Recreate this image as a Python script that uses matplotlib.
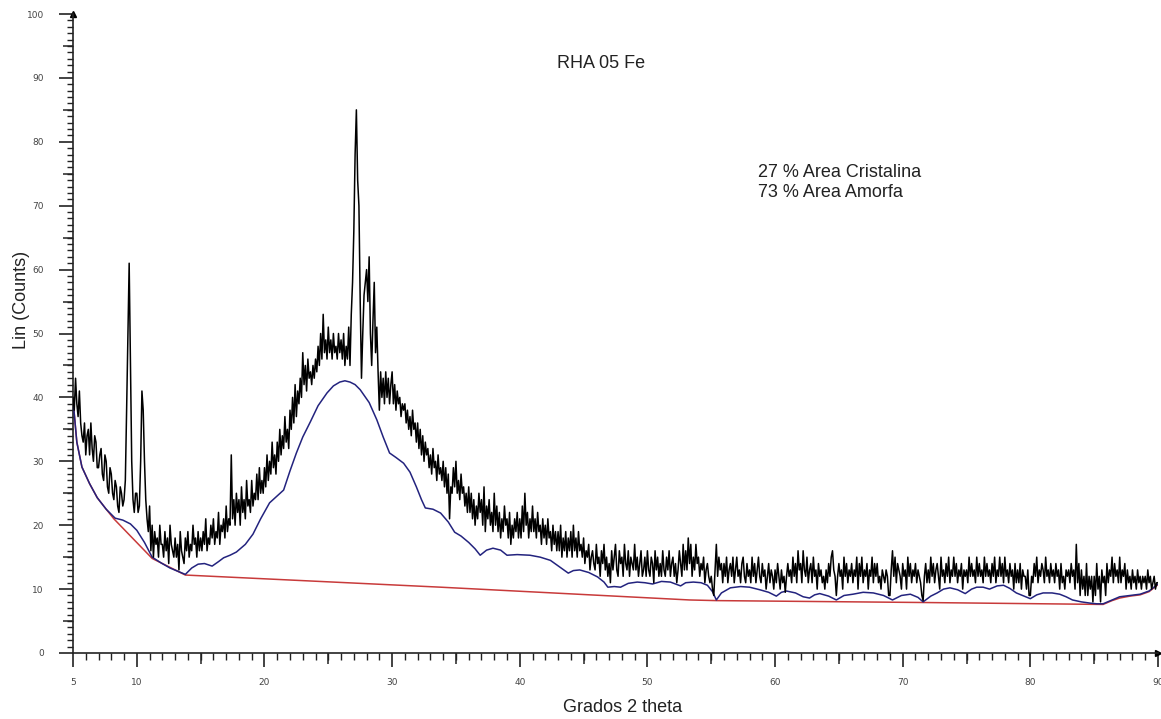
import numpy as np
import matplotlib
matplotlib.use("Agg")
import matplotlib.pyplot as plt
from matplotlib import markers
import matplotlib.transforms as mtransforms

# ---------------- data ----------------
theta_start, theta_step = 5.0, 0.1
counts = [
    40, 38, 43, 39, 37, 41, 36, 34, 33, 36,   # 5
    31, 34, 35, 31, 36, 32, 30, 34, 33, 29,   # 6
    29, 31, 32, 28, 27, 31, 30, 26, 25, 29,   # 7
    28, 25, 24, 27, 26, 23, 22, 26, 25, 23,   # 8
    24, 27, 38, 50, 61, 45, 30, 24, 22, 25,   # 9
    25, 22, 23, 30, 41, 38, 30, 24, 21, 19,   # 10
    23, 16, 20, 15, 19, 17, 18, 15, 20, 17,   # 11
    17, 15, 19, 16, 18, 14, 20, 17, 16, 15,   # 12
    18, 15, 17, 13, 19, 16, 15, 14, 18, 16,   # 13
    19, 15, 17, 16, 20, 17, 18, 15, 19, 16,   # 14
    18, 16, 19, 17, 21, 16, 18, 17, 20, 18,   # 15
    21, 17, 19, 18, 22, 17, 20, 19, 21, 18,   # 16
    23, 19, 21, 20, 31, 21, 24, 20, 25, 22,   # 17
    24, 20, 26, 22, 24, 21, 27, 23, 24, 22,   # 18
    27, 23, 25, 24, 28, 24, 29, 25, 27, 25,   # 19
    29, 26, 31, 27, 30, 28, 33, 29, 31, 28,   # 20
    33, 30, 35, 31, 34, 32, 37, 33, 35, 32,   # 21
    38, 35, 40, 36, 42, 37, 41, 39, 43, 40,   # 22
    47, 42, 45, 41, 46, 43, 44, 42, 45, 43,   # 23
    46, 44, 48, 45, 50, 46, 53, 47, 49, 46,   # 24
    51, 47, 49, 46, 50, 47, 48, 46, 50, 47,   # 25
    49, 46, 50, 45, 48, 46, 51, 45, 53, 58,   # 26
    66, 78, 85, 74, 70, 55, 43, 50, 56, 58,   # 27
    60, 55, 62, 50, 45, 52, 58, 47, 51, 44,   # 28
    38, 44, 40, 43, 39, 44, 40, 43, 39, 42,   # 29
    44, 39, 42, 38, 41, 39, 40, 37, 39, 38,   # 30
    39, 36, 38, 35, 37, 34, 38, 35, 36, 33,   # 31
    36, 32, 35, 31, 34, 30, 33, 31, 32, 29,   # 32
    31, 28, 32, 29, 30, 27, 31, 28, 29, 27,   # 33
    30, 26, 29, 25, 28, 21, 26, 25, 29, 26,   # 34
    30, 25, 27, 24, 28, 25, 26, 23, 25, 22,   # 35
    26, 22, 25, 21, 24, 20, 23, 21, 25, 22,   # 36
    24, 20, 26, 19, 23, 21, 24, 20, 22, 19,   # 37
    25, 20, 23, 19, 22, 18, 21, 19, 23, 20,   # 38
    21, 18, 22, 17, 20, 18, 21, 19, 22, 18,   # 39
    21, 18, 23, 19, 25, 20, 22, 18, 21, 19,   # 40
    23, 19, 21, 18, 22, 19, 20, 17, 21, 18,   # 41
    20, 17, 21, 18, 19, 16, 20, 17, 19, 16,   # 42
    19, 16, 20, 15, 18, 16, 19, 15, 18, 16,   # 43
    19, 15, 20, 16, 18, 15, 19, 16, 17, 15,   # 44
    18, 14, 16, 15, 17, 13, 15, 16, 14, 13,   # 45
    17, 14, 15, 12, 16, 14, 17, 13, 15, 12,   # 46
    14, 11, 16, 13, 15, 17, 13, 12, 16, 14,   # 47
    15, 12, 17, 14, 13, 16, 12, 15, 14, 13,   # 48
    17, 13, 15, 12, 14, 16, 12, 13, 15, 12,   # 49
    16, 13, 12, 15, 14, 11, 16, 13, 15, 12,   # 50
    14, 12, 16, 13, 12, 15, 13, 16, 12, 14,   # 51
    15, 12, 14, 11, 13, 16, 14, 12, 17, 13,   # 52
    16, 13, 18, 14, 17, 12, 15, 13, 17, 14,   # 53
    15, 12, 14, 13, 15, 11, 13, 14, 12, 11,   # 54
    12, 10, 9, 13, 17, 12, 15, 13, 14, 11,    # 55
    14, 12, 15, 11, 13, 14, 12, 15, 11, 13,   # 56
    15, 12, 13, 11, 14, 15, 12, 11, 14, 12,   # 57
    13, 11, 15, 12, 14, 11, 13, 15, 12, 11,   # 58
    14, 12, 13, 10, 12, 14, 11, 13, 12, 10,   # 59
    13, 11, 14, 12, 10, 13, 11, 12, 9.5, 12,  # 60
    14, 12, 13, 11, 15, 12, 14, 11, 16, 13,   # 61
    14, 11, 16, 13, 12, 15, 11, 13, 14, 11,   # 62
    15, 12, 13, 10, 14, 12, 13, 11, 12, 10,   # 63
    13, 11, 14, 12, 15, 16, 13, 12, 9, 12,    # 64
    14, 12, 13, 10, 15, 12, 14, 11, 13, 12,   # 65
    14, 11, 13, 12, 15, 10, 14, 12, 15, 11,   # 66
    13, 12, 14, 10, 13, 12, 15, 11, 14, 12,   # 67
    14, 11, 12, 10, 13, 12, 11, 13, 12, 9,    # 68
    9, 13, 16, 12, 15, 11, 14, 13, 12, 10,    # 69
    14, 12, 13, 10, 15, 12, 14, 11, 13, 12,   # 70
    14, 11, 13, 12, 11, 9, 8.2, 12, 14, 11,   # 71
    13, 11, 15, 12, 14, 11, 13, 14, 12, 10,   # 72
    15, 12, 13, 11, 14, 12, 15, 11, 13, 12,   # 73
    15, 12, 14, 11, 13, 12, 14, 10, 13, 12,   # 74
    13, 11, 15, 12, 14, 12, 13, 11, 15, 12,   # 75
    14, 12, 13, 11, 15, 12, 14, 12, 13, 11,   # 76
    14, 12, 15, 11, 13, 12, 15, 12, 14, 11,   # 77
    15, 12, 13, 11, 14, 12, 13, 10, 14, 11,   # 78
    13, 11, 14, 10, 13, 12, 12, 10, 13, 9,    # 79
    9, 12, 11, 14, 12, 15, 11, 13, 12, 14,    # 80
    13, 11, 15, 12, 13, 11, 14, 12, 13, 11,   # 81
    14, 12, 13, 10, 14, 11, 12, 10, 13, 12,   # 82
    13, 11, 14, 12, 13, 10, 17, 11, 14, 9,    # 83
    13, 10, 12, 9, 14, 9, 12, 10, 12, 8,      # 84
    12, 9, 14, 10, 12, 8, 13, 11, 12, 9,      # 85
    14, 11, 13, 12, 15, 11, 14, 12, 13, 11,   # 86
    15, 11, 13, 12, 14, 10, 13, 11, 12, 10,   # 87
    13, 11, 12, 10, 13, 11, 12, 10, 12, 11,   # 88
    12, 10, 13, 11, 12, 10, 11, 12, 10, 11,   # 89
    11,                                       # 90
]
theta = theta_start + theta_step * np.arange(len(counts))

amorph_x = [5.0, 5.3, 5.7, 6.3, 6.9, 7.6, 8.3, 8.9, 9.5, 10.0, 10.6, 11.2, 11.9, 12.6,
            13.8, 14.3, 14.8, 15.3, 15.9, 16.4, 16.8, 17.3, 17.8, 18.5, 19.1, 19.7,
            20.4, 21.0, 21.5, 22.0, 22.5, 23.0, 23.6, 24.2, 24.9, 25.4, 25.9, 26.3,
            26.7, 27.1, 27.5, 28.2, 28.8, 29.3, 29.8, 30.3, 30.9, 31.4, 31.9, 32.3,
            32.6, 33.2, 33.8, 34.4, 34.9, 35.4, 36.0, 36.5, 36.9, 37.4, 37.9, 38.5,
            39.0, 39.8, 40.8, 41.6, 42.4, 43.1, 43.8, 44.2, 44.7, 45.4, 46.1, 46.6,
            46.9, 47.4, 47.9, 48.5, 49.2, 49.8, 50.4, 51.1, 51.8, 52.2, 52.6, 53.0,
            53.6, 54.2, 54.7, 55.1, 55.4, 55.8, 56.5, 57.3, 58.0, 58.8, 59.5, 60.1,
            60.5, 60.9, 61.6, 62.2, 62.7, 63.1, 63.5, 64.2, 64.8, 65.4, 66.1, 66.9,
            67.7, 68.5, 69.2, 69.9, 70.6, 71.2, 71.6, 72.2, 72.7, 73.2, 73.7, 74.3,
            74.9, 75.4, 75.8, 76.3, 76.8, 77.4, 77.9, 78.4, 78.9, 79.5, 80.0, 80.5,
            81.0, 81.7, 82.3, 82.8, 83.3, 84.0, 84.7, 85.2, 85.7, 86.4, 87.0, 87.8,
            88.6, 89.3, 90.0]
amorph_y = [39.6, 33.0, 29.1, 26.5, 24.3, 22.5, 21.1, 20.8, 20.2, 19.2, 17.3, 15.0, 14.1, 13.3,
            12.3, 13.3, 13.9, 14.0, 13.6, 14.3, 14.9, 15.3, 15.8, 17.0, 18.6, 21.0,
            23.5, 24.6, 25.5, 28.5, 31.3, 33.8, 36.2, 38.7, 40.7, 41.8, 42.4, 42.6,
            42.4, 42.0, 41.2, 39.2, 36.5, 33.8, 31.3, 30.6, 29.7, 28.3, 26.0, 24.0,
            22.7, 22.5, 21.9, 20.5, 18.9, 18.3, 17.3, 16.3, 15.3, 16.1, 16.4, 16.1,
            15.3, 15.4, 15.3, 15.0, 14.5, 13.5, 12.5, 12.9, 13.0, 12.6, 11.9, 11.1,
            10.3, 10.4, 10.3, 10.9, 11.1, 11.0, 10.8, 11.2, 11.1, 10.8, 10.5, 11.0,
            11.1, 11.0, 10.6, 9.6, 8.3, 9.4, 10.2, 10.4, 10.3, 9.9, 9.5, 8.9,
            9.5, 9.7, 9.4, 8.8, 8.6, 9.1, 9.3, 8.9, 8.3, 9.0, 9.2, 9.5,
            9.4, 9.0, 8.3, 9.0, 9.2, 8.7, 8.0, 8.9, 9.4, 10.0, 10.2, 9.9,
            9.3, 10.0, 10.3, 10.3, 10.0, 10.5, 10.6, 10.1, 9.4, 8.9, 8.5, 9.1,
            9.4, 9.4, 9.2, 8.8, 8.3, 8.0, 7.8, 7.7, 7.7, 8.3, 8.8, 9.0,
            9.2, 9.7, 10.8]

base_x = [5.0, 5.3, 5.7, 6.3, 6.9, 7.6, 8.2, 11.2, 13.8, 33.8, 53.3, 55.4, 71.7,
          85.7, 86.4, 87.0, 87.8, 88.6, 89.3, 90.0]
base_y = [39.6, 33.0, 29.1, 26.5, 24.3, 22.5, 21.0, 14.8, 12.2, 10.3, 8.3, 8.2, 7.9,
          7.6, 8.2, 8.6, 8.9, 9.1, 9.6, 10.7]

title_text = "RHA 05 Fe"
info_lines = ["27 % Area Cristalina", "73 % Area Amorfa"]
xlabel_text = "Grados 2 theta"
ylabel_text = "Lin (Counts)"
x_tick_labels = [5, 10, 20, 30, 40, 50, 60, 70, 80, 90]
y_tick_labels = list(range(0, 101, 10))

# ---------------- figure ----------------
W, H = 1161, 719
fig = plt.figure(figsize=(W / 100, H / 100), dpi=100)
ax = fig.add_axes([73 / W, 1 - 653 / H, (1158 - 73) / W, (653 - 14) / H])

ax.plot(base_x, base_y, color="#c83a3a", lw=1.1, zorder=2)
ax.plot(amorph_x, amorph_y, color="#23237e", lw=1.1, zorder=3)
ax.plot(theta, counts, color="black", lw=1.1, zorder=4)

ax.set_xlim(5, 90)
ax.set_ylim(0, 100)
for s in ["top", "right"]:
    ax.spines[s].set_visible(False)
for s in ["left", "bottom"]:
    ax.spines[s].set_linewidth(1.2)
    ax.spines[s].set_color("#222222")

tick_color = "#444444"
ax.set_xticks(x_tick_labels)
ax.set_xticklabels([str(v) for v in x_tick_labels])
ax.set_xticks(np.arange(5, 91, 1), minor=True)
ax.set_yticks(y_tick_labels)
ax.set_yticklabels([str(v) for v in y_tick_labels])
ax.set_yticks(np.arange(0, 101, 1), minor=True)
ax.tick_params(axis="x", which="major", length=10, width=1.2, color="#222222",
               labelsize=6.5, labelcolor=tick_color, pad=8)
ax.tick_params(axis="x", which="minor", length=5, width=1.0, color="#222222")
ax.tick_params(axis="y", which="major", length=10, width=1.2, color="#222222",
               labelsize=6.5, labelcolor=tick_color, pad=11)
ax.tick_params(axis="y", which="minor", length=4, width=1.0, color="#222222")

# medium ticks at the fives
tx = mtransforms.blended_transform_factory(ax.transData, ax.transAxes)
ty = mtransforms.blended_transform_factory(ax.transAxes, ax.transData)
mid_x = [v for v in range(15, 90, 10)]
mid_y = [v for v in range(5, 100, 10)]
ax.plot(mid_x, [0] * len(mid_x), ls="none", marker=markers.TICKDOWN, ms=8, mew=1.1,
        color="#222222", transform=tx, clip_on=False)
ax.plot([0] * len(mid_y), mid_y, ls="none", marker=markers.TICKLEFT, ms=7, mew=1.1,
        color="#222222", transform=ty, clip_on=False)

# arrowheads
ax.plot([1.0], [0.0], marker=">", ms=5, color="black", transform=ax.transAxes, clip_on=False)
ax.plot([0.0], [1.0], marker="^", ms=5, color="black", transform=ax.transAxes, clip_on=False)

fam = ["Liberation Sans", "DejaVu Sans"]
fig.text(557 / W, 1 - 68 / H, title_text, fontsize=13, family=fam, color="#222222",
         ha="left", va="baseline")
fig.text(758 / W, 1 - 177 / H, info_lines[0], fontsize=13, family=fam, color="#222222",
         ha="left", va="baseline")
fig.text(758 / W, 1 - 197 / H, info_lines[1], fontsize=13, family=fam, color="#222222",
         ha="left", va="baseline")
fig.text(623 / W, 1 - 712 / H, xlabel_text, fontsize=13, family=fam, color="#222222",
         ha="center", va="baseline")
fig.text(22 / W, 1 - 300 / H, ylabel_text, fontsize=13, family=fam, color="#222222",
         ha="center", va="center", rotation=90)

fig.savefig("out.png", dpi=100)
